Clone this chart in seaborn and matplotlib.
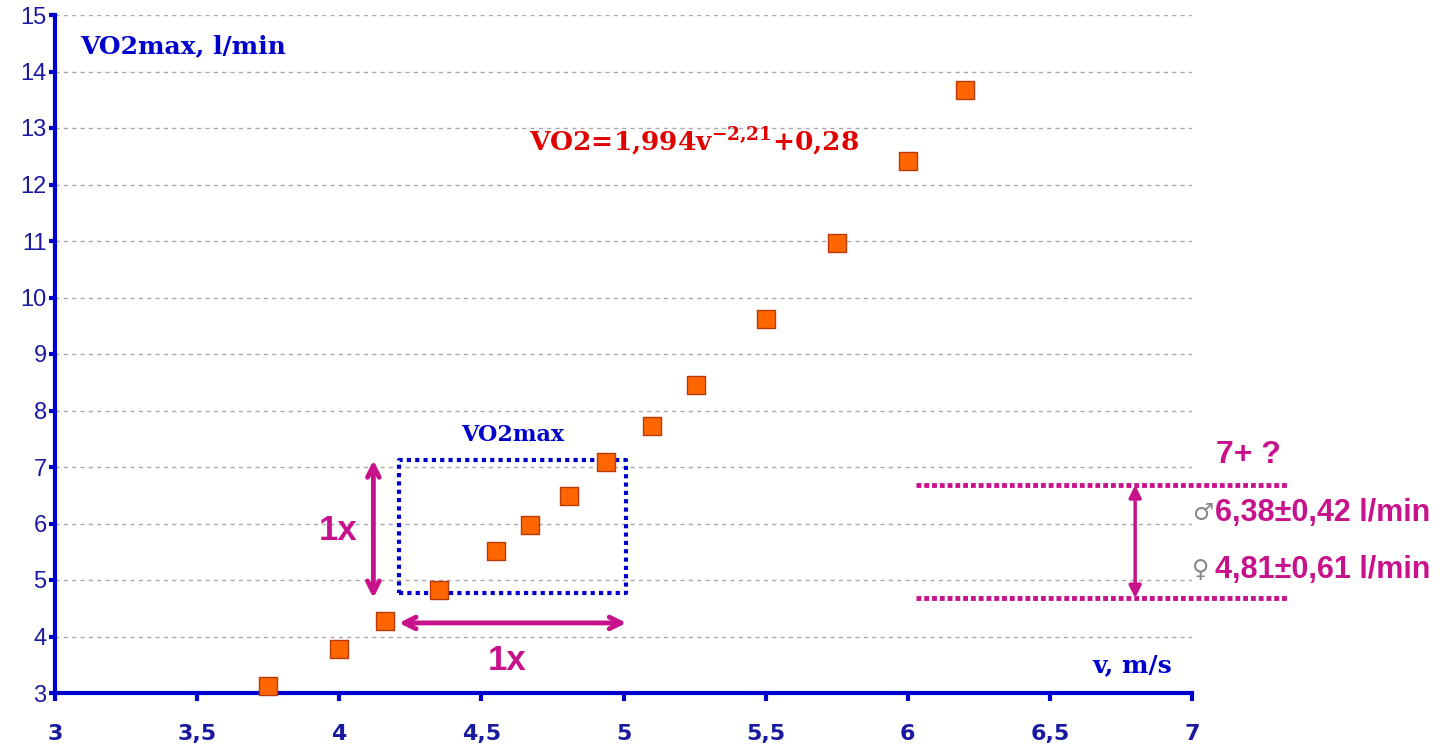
import matplotlib
matplotlib.use("Agg")
import matplotlib.pyplot as plt
import seaborn as sns
import pandas as pd

# data
speed = [3.75, 4.0, 4.16, 4.35, 4.55, 4.67, 4.81, 4.94, 5.10, 5.255, 5.50, 5.75, 6.0, 6.2]
vo2 = [3.12, 3.78, 4.27, 4.82, 5.51, 5.97, 6.49, 7.09, 7.73, 8.45, 9.62, 10.96, 12.42, 13.67]
x_ticks = [3, 3.5, 4, 4.5, 5, 5.5, 6, 6.5, 7]
x_tick_labels = ["3", "3,5", "4", "4,5", "5", "5,5", "6", "6,5", "7"]
y_ticks = list(range(3, 16))
male_level = 6.68
female_level = 4.68

sns.set_theme(style="white")
plt.rcParams['font.family'] = ['DejaVu Sans']
plt.rcParams['mathtext.fontset'] = 'dejavuserif'

df = pd.DataFrame({"v": speed, "vo2": vo2})

fig = plt.figure(figsize=(14.5, 7.47), dpi=100)
ax = fig.add_axes([55/1450, 54/747, (1192-55)/1450, (693-15)/747])

blue = "#0000CC"
mag = "#C8128C"

ax.set_xlim(3, 7)
ax.set_ylim(3, 15)
for y in y_ticks[1:]:
    ax.axhline(y, color="#aaaaaa", lw=1, ls=(0, (3, 3)), zorder=0)

sns.scatterplot(data=df, x="v", y="vo2", marker="s", s=150, color="#FF6600",
                edgecolor="#B83A0A", linewidth=1, ax=ax, zorder=5, clip_on=False)

for s in ["top", "right"]:
    ax.spines[s].set_visible(False)
for s in ["left", "bottom"]:
    ax.spines[s].set_color(blue)
    ax.spines[s].set_linewidth(3)

ax.set_xticks(x_ticks)
ax.set_xticklabels(x_tick_labels, fontfamily="Liberation Sans Narrow", fontweight="bold",
                   fontsize=16, color="#1a1aa0")
ax.set_yticks(y_ticks)
ax.set_yticklabels([str(y) for y in y_ticks], fontfamily="Liberation Sans", fontsize=17,
                   color="#1a1aa0")
ax.tick_params(axis="x", direction="out", length=6, width=3, color=blue, pad=16, bottom=True)
ax.tick_params(axis="y", direction="out", length=4, width=3, color=blue, pad=2, left=True)
ax.set_xlabel("")
ax.set_ylabel("")

serif = "DejaVu Serif"
ax.text(3.09, 14.45, "VO2max, l/min", fontfamily=serif, fontweight="bold", fontsize=18,
        color=blue, ha="left", va="center")
ax.text(6.93, 3.5, "v, m/s", fontfamily=serif, fontweight="bold", fontsize=18,
        color=blue, ha="right", va="center")
ax.text(5.25, 12.75, r"VO2=1,994v$^{\mathbf{-2{,}21}}$+0,28", fontfamily=serif,
        fontweight="bold", fontsize=19, color="#E00000", ha="center", va="center")
ax.text(4.61, 7.57, "VO2max", fontfamily=serif, fontweight="bold", fontsize=16,
        color=blue, ha="center", va="center")

# dotted box
bx0, bx1, by0, by1 = 4.21, 5.01, 4.77, 7.12
ax.plot([bx0, bx1, bx1, bx0, bx0], [by0, by0, by1, by1, by0], color=blue, lw=3,
        ls=(0, (1, 1)), zorder=4)

arrow = dict(arrowstyle="<->,head_length=0.7,head_width=0.35", color=mag, lw=3.5,
             shrinkA=0, shrinkB=0)
ax.annotate("", xy=(4.12, 4.68), xytext=(4.12, 7.12), arrowprops=arrow)
ax.annotate("", xy=(4.21, 4.24), xytext=(5.01, 4.24), arrowprops=arrow)
ax.text(3.995, 5.87, "1x", fontfamily="Liberation Sans", fontweight="bold", fontsize=25,
        color=mag, ha="center", va="center")
ax.text(4.59, 3.58, "1x", fontfamily="Liberation Sans", fontweight="bold", fontsize=25,
        color=mag, ha="center", va="center")

# sex ranges
for lvl in (male_level, female_level):
    ax.plot([6.03, 7.34], [lvl, lvl], color=mag, lw=3.5, ls=(0, (1, 0.6)), clip_on=False)
arrow2 = dict(arrowstyle="<|-|>,head_length=0.6,head_width=0.3", color=mag, lw=2.5,
              shrinkA=0, shrinkB=0)
ax.annotate("", xy=(6.80, female_level), xytext=(6.80, male_level), arrowprops=arrow2,
            annotation_clip=False)
ax.text(7.2, 7.21, "7+ ?", fontfamily="Liberation Sans", fontweight="bold", fontsize=23,
        color=mag, ha="center", va="center", clip_on=False)
ax.text(7.0, 6.19, "♂", fontfamily="DejaVu Sans", fontsize=17, color="#888888",
        ha="left", va="center", clip_on=False)
ax.text(7.08, 6.19, "6,38±0,42 l/min", fontfamily="Liberation Sans", fontweight="bold",
        fontsize=22, color=mag, ha="left", va="center", clip_on=False)
ax.text(7.0, 5.18, "♀", fontfamily="DejaVu Sans", fontsize=17, color="#888888",
        ha="left", va="center", clip_on=False)
ax.text(7.08, 5.18, "4,81±0,61 l/min", fontfamily="Liberation Sans", fontweight="bold",
        fontsize=22, color=mag, ha="left", va="center", clip_on=False)

fig.savefig("out.png", dpi=100)
